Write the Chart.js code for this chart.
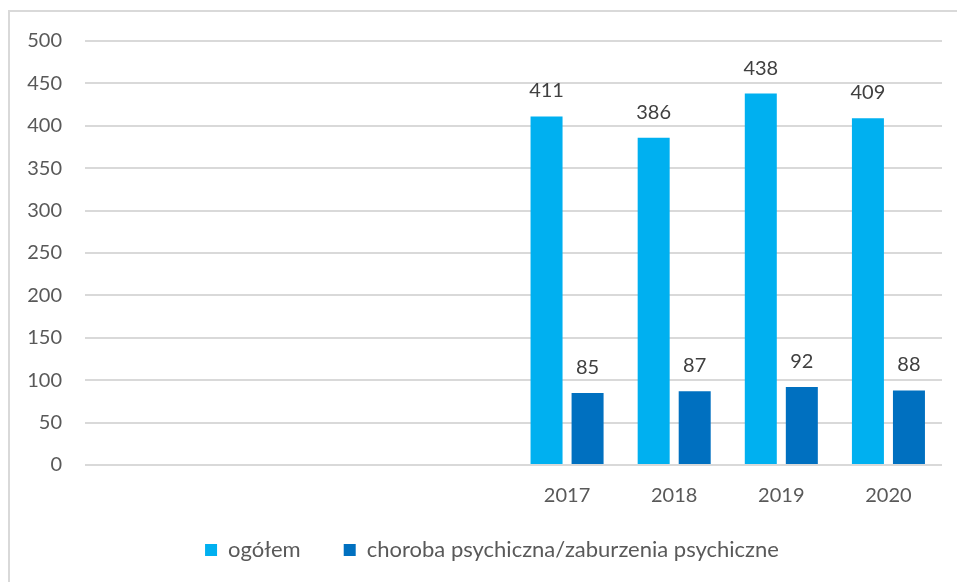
<!DOCTYPE html>
<html>
<head>
<meta charset="utf-8">
<script src="https://cdn.jsdelivr.net/npm/chart.js@4"></script>
<style>
body{margin:0;background:#fff}
#wrap{position:relative;width:957px;height:582px}
#frame{position:absolute;left:8px;top:10px;right:0;bottom:0;border-top:2px solid #d9d9d9;border-left:2px solid #d9d9d9;pointer-events:none}
canvas{position:absolute;left:0;top:0}
</style>
</head>
<body>
<div id="wrap">
<canvas id="chart" width="957" height="582"></canvas>
<div id="frame"></div>
</div>
<script>

// 8 slots on the axis, only the last four are filled
let years=["","","","","2017","2018","2019","2020"]
let ogolem=[null,null,null,null,411,386,438,409]
let choroba=[null,null,null,null,85,87,92,88]
let yTicks=[0,50,100,150,200,250,300,350,400,450,500]

let font="Lato, 'Open Sans', sans-serif"

let barLabels={
id:"barLabels",
afterDatasetsDraw(chart){
let ctx=chart.ctx
ctx.save()
ctx.font="20px "+font
ctx.fillStyle="#404040"
ctx.textAlign="center"
ctx.textBaseline="alphabetic"
chart.data.datasets.forEach((ds,i)=>{
chart.getDatasetMeta(i).data.forEach((bar,j)=>{
if(ds.data[j]==null)return
ctx.fillText(ds.data[j],bar.x,bar.y-19)
})
})
ctx.restore()
}
}

// legend sits a bit right of the canvas centre
let legendShift={
id:"legendShift",
afterLayout(chart){
chart.legend.left+=21
chart.legend.right+=21
}
}

new Chart(document.getElementById("chart"),{
type:"bar",
data:{
labels:years,
datasets:[
{label:"ogółem",data:ogolem,backgroundColor:"#00B0F0"},
{label:"choroba psychiczna/zaburzenia psychiczne",data:choroba,backgroundColor:"#0070C0"}
]
},
options:{
responsive:false,
animation:false,
layout:{padding:{top:41,right:15,bottom:11,left:0}},
datasets:{bar:{categoryPercentage:0.766,barPercentage:0.78}},
scales:{
x:{
grid:{display:false},
border:{display:false},
ticks:{color:"#595959",font:{family:font,size:20},padding:11,maxRotation:0},
afterFit(s){s.height=64}
},
y:{
min:0,max:500,
afterBuildTicks(s){s.ticks=yTicks.map(v=>({value:v}))},
grid:{color:"#d9d9d9",lineWidth:2,drawTicks:false},
border:{display:false},
ticks:{color:"#595959",font:{family:font,size:20},padding:23},
afterFit(s){s.width=85}
}
},
plugins:{
legend:{
position:"bottom",
labels:{
boxWidth:12,boxHeight:12,padding:10,color:"#595959",font:{family:font,size:22},
generateLabels(chart){
let items=Chart.defaults.plugins.legend.labels.generateLabels(chart)
items[0].text+="\u2002\u2002\u2002"
return items
}
}
},
tooltip:{enabled:false}
}
},
plugins:[barLabels,legendShift]
})

</script>
</body>
</html>
